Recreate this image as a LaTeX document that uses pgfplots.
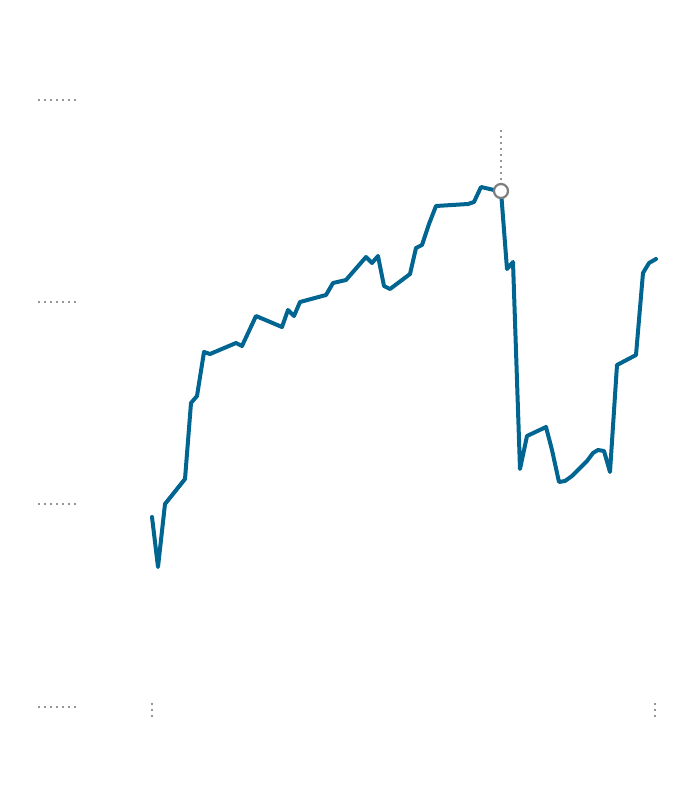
\documentclass[border=0pt]{standalone}
\usepackage{pgfplots}
\pgfplotsset{compat=1.18}
\definecolor{linecol}{RGB}{0,101,145}
\definecolor{dotcol}{RGB}{150,150,150}
\definecolor{markcol}{RGB}{125,125,125}
\begin{document}
\begin{tikzpicture}
\begin{axis}[
  width=700bp, height=794bp, scale only axis,
  xmin=0, xmax=700, ymin=0, ymax=794, y dir=reverse,
  hide axis, clip=false,
]
\path (rel axis cs:0,0) rectangle (rel axis cs:1,1);
% gridline stubs
\addplot[dotcol, line width=2.2bp, dash pattern=on 2.2bp off 3.8bp] coordinates {(38,100) (78,100)};
\addplot[dotcol, line width=2.2bp, dash pattern=on 2.2bp off 3.8bp] coordinates {(38,302) (78,302)};
\addplot[dotcol, line width=2.2bp, dash pattern=on 2.2bp off 3.8bp] coordinates {(38,504) (78,504)};
\addplot[dotcol, line width=2.2bp, dash pattern=on 2.2bp off 3.8bp] coordinates {(38,707) (78,707)};
% x tick stubs
\addplot[dotcol, line width=2.2bp, dash pattern=on 2.2bp off 3.8bp] coordinates {(152,703) (152,718)};
\addplot[dotcol, line width=2.2bp, dash pattern=on 2.2bp off 3.8bp] coordinates {(655,703) (655,718)};
% hover line
\addplot[dotcol, line width=2.2bp, dash pattern=on 2.2bp off 3.8bp] coordinates {(501,130) (501,184)};
% series
\addplot[linecol, line width=4bp, line join=round, line cap=round] coordinates {
(152,517) (158,567) (165,504) (185,479) (191,403) (197,396) (204,352) (210,354)
(236,343) (242,346) (256,316) (282,327) (288,310) (294,316) (300,302) (326,295)
(333,283) (346,280) (366,257) (372,263) (378,256) (384,286) (390,289) (410,274)
(416,248) (422,245) (429,224) (436,206) (468,204) (474,202) (481,187) (494,190)
(501,191) (507,269) (513,262) (520,469) (527,436) (546,427) (552,450) (559,482)
(565,481) (572,476) (587,461) (593,453) (598,450) (604,451) (610,472) (617,365)
(636,355) (643,273) (649,263) (656,259)
};
% highlighted point
\addplot[only marks, mark=*, mark size=7bp, mark options={draw=markcol, fill=white, line width=2.2bp}] coordinates {(501,191)};
\end{axis}
\end{tikzpicture}
\end{document}
